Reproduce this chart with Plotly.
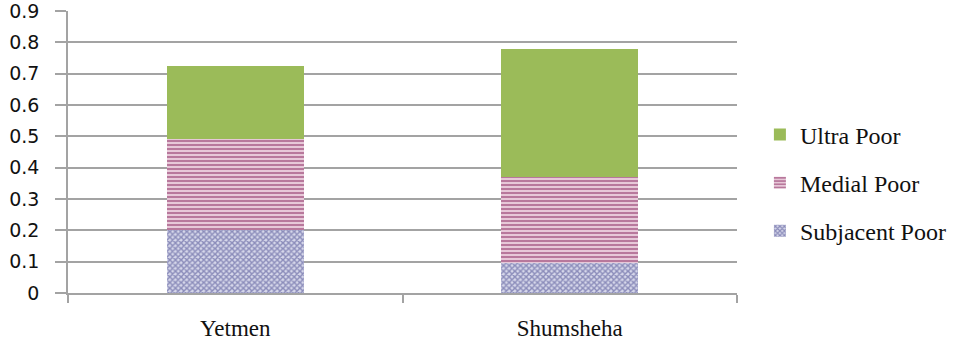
import plotly.graph_objects as go

# Share of households by poverty class in each district
districts = ["Yetmen", "Shumsheha"]
subjacent_poor = [0.20, 0.095]
medial_poor = [0.29, 0.275]
ultra_poor = [0.235, 0.41]

y_ticks = [0, 0.1, 0.2, 0.3, 0.4, 0.5, 0.6, 0.7, 0.8, 0.9]
y_tick_text = ["0", "0.1", "0.2", "0.3", "0.4", "0.5", "0.6", "0.7", "0.8", "0.9"]

GRID = "#a3a3a3"
SERIF = "Liberation Serif, Times New Roman, DejaVu Serif, serif"
SANS = "DejaVu Sans"

fig = go.Figure()
fig.add_trace(go.Bar(
    x=districts, y=subjacent_poor, name="Subjacent Poor", legendgroup="s", legendrank=3,
    marker=dict(color="white", line=dict(width=0),
                pattern=dict(shape="x", size=4, solidity=0.6,
                             fgcolor="#3f428a", bgcolor="#d6d7ea", fillmode="overlay")),
))
fig.add_trace(go.Bar(
    x=districts, y=medial_poor, name="Medial Poor", legendgroup="m", legendrank=2,
    marker=dict(color="white", line=dict(width=0),
                pattern=dict(shape="-", size=4, solidity=0.6,
                             fgcolor="#7d1450", bgcolor="#f3dde8", fillmode="overlay")),
))
fig.add_trace(go.Bar(
    x=districts, y=ultra_poor, name="Ultra Poor", legendgroup="u", legendrank=1,
    marker=dict(color="#9bbb59", line=dict(width=0)),
))

fig.update_layout(
    width=978, height=345,
    barmode="stack", bargap=0.59,
    paper_bgcolor="white", plot_bgcolor="white",
    margin=dict(l=68, r=241, t=11, b=52, autoexpand=False),
    showlegend=True,
    legend=dict(
        xref="container", yref="container",
        x=0.777, y=0.47, xanchor="left", yanchor="middle",
        traceorder="grouped", tracegroupgap=14,
        font=dict(family=SERIF, size=24, color="#111111"),
        bgcolor="rgba(0,0,0,0)",
    ),
    xaxis=dict(
        type="category", tickson="boundaries", automargin=False,
        ticks="outside", ticklen=8, tickcolor=GRID, tickwidth=1.5,
        showline=True, linecolor=GRID, linewidth=1.5,
        showgrid=False, ticklabelstandoff=14,
        tickfont=dict(family=SERIF, size=23, color="#111111"),
    ),
    yaxis=dict(
        range=[0, 0.9001], tickvals=y_ticks, ticktext=y_tick_text, automargin=False,
        ticks="outside", ticklen=11, tickcolor=GRID, tickwidth=1.5,
        showline=True, linecolor=GRID, linewidth=1.5,
        showgrid=True, gridcolor=GRID, gridwidth=1.5,
        zeroline=False, ticklabelstandoff=12, ticklabeloverflow="allow",
        tickfont=dict(family=SANS, size=19, color="#111111"),
    ),
)

fig.write_html("out.html")
